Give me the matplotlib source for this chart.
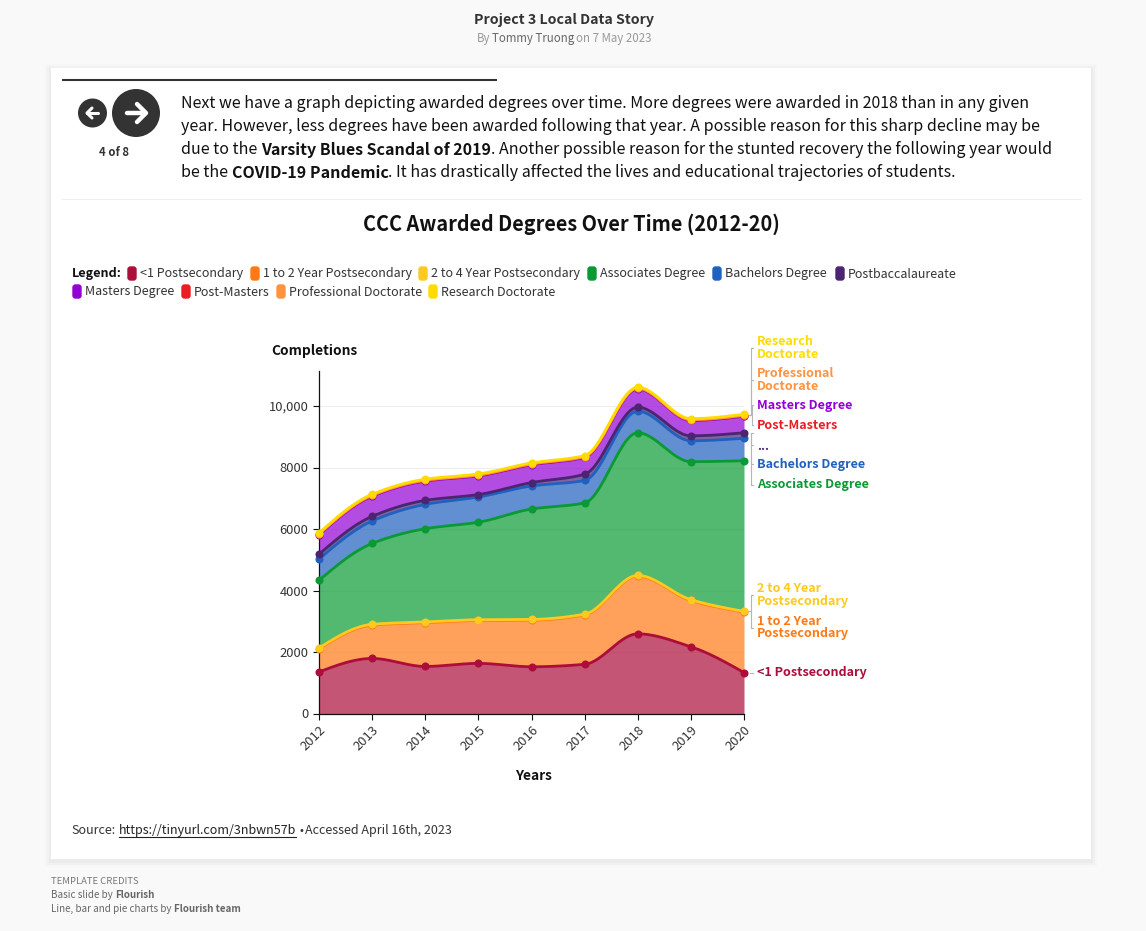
import numpy as np
import matplotlib
matplotlib.use("Agg")
import matplotlib.pyplot as plt
from matplotlib.patches import Rectangle, Circle, FancyBboxPatch

plt.rcParams['font.family'] = ['Noto Sans CJK SC', 'DejaVu Sans']

years = [2012, 2013, 2014, 2015, 2016, 2017, 2018, 2019, 2020]
lt1_post = [1350, 1790, 1530, 1630, 1520, 1600, 2590, 2170, 1330]
y1to2_post = [755, 1085, 1425, 1395, 1515, 1605, 1875, 1505, 1965]
y2to4_post = [25, 25, 25, 25, 25, 25, 25, 25, 25]
associates = [2200, 2630, 3030, 3170, 3590, 3620, 4640, 4490, 4900]
bachelors = [690, 730, 790, 820, 750, 730, 700, 680, 730]
postbacc = [160, 150, 130, 80, 110, 200, 130, 160, 180]
masters = [630, 660, 630, 610, 580, 550, 590, 500, 540]
post_masters = [20, 20, 20, 20, 20, 20, 20, 20, 20]
prof_doc = [5, 5, 5, 5, 5, 5, 5, 5, 5]
res_doc = [35, 35, 35, 35, 35, 35, 35, 35, 35]

series_names = ['<1 Postsecondary', '1 to 2 Year Postsecondary', '2 to 4 Year Postsecondary',
                'Associates Degree', 'Bachelors Degree', 'Postbaccalaureate', 'Masters Degree',
                'Post-Masters', 'Professional Doctorate', 'Research Doctorate']
series_values = [lt1_post, y1to2_post, y2to4_post, associates, bachelors, postbacc, masters,
                 post_masters, prof_doc, res_doc]
colors = ['#ad0d3a', '#ff7a14', '#ffc91f', '#0a9a33', '#2060bf', '#4b2472', '#9300d3',
          '#ec1c24', '#ff9340', '#ffdc00']
y_ticks = [0, 2000, 4000, 6000, 8000, 10000]
y_labels = ['0', '2000', '4000', '6000', '8000', '10,000']

W, H = 1146, 931
fig = plt.figure(figsize=(W / 100, H / 100), dpi=100, facecolor='#f9f9f9')
bg = fig.add_axes([0, 0, 1, 1], zorder=0)
bg.set_xlim(0, W); bg.set_ylim(H, 0); bg.axis('off')

for grow, a in [(6, .012), (4, .018), (2, .025)]:
    bg.add_patch(Rectangle((51 - grow, 68 - grow + 2), 1040 + 2 * grow, 791 + 2 * grow, fc='k', ec='none', alpha=a))
bg.add_patch(Rectangle((51, 68), 1040, 791, fc='white', ec='none'))


def px(v):
    return v * 0.72 * 0.89


def T(x, y, s, size, bold=False, color='#222222', ha='left', **kw):
    return bg.text(x, y + 1, s, fontsize=px(size), fontweight='bold' if bold else 'normal',
                   color=color, ha=ha, va='center', **kw)


def segs(x, y, parts, size, color='#222222'):
    r = fig.canvas.get_renderer()
    for s, b in parts:
        t = T(x, y, s, size, b, color)
        x = t.get_window_extent(r).x1
    return x


# header
T(563.5, 19, 'Project 3 Local Data Story', 15.9, True, '#333333', ha='center')
T(476.5, 37.5, 'By', 12.9, False, '#999999')
T(492.5, 37.5, 'Tommy Truong', 12.9, False, '#666666')
T(576.5, 37.5, 'on 7 May 2023', 12.9, False, '#999999')

# nav
bg.plot([62, 497], [79.5, 79.5], color='#333333', lw=1.5, solid_capstyle='butt')
bg.add_patch(Circle((92.5, 113), 14.5, fc='#333333', ec='none'))
bg.add_patch(Circle((136, 113), 24, fc='#333333', ec='none'))
bg.plot([87, 98], [113, 113], color='white', lw=2.2, solid_capstyle='round')
bg.plot([92, 87, 92], [108, 113, 118], color='white', lw=2.2, solid_capstyle='round', solid_joinstyle='round')
bg.plot([127, 145], [113, 113], color='white', lw=3.2, solid_capstyle='round')
bg.plot([137, 146, 137], [104, 113, 122], color='white', lw=3.2, solid_capstyle='round', solid_joinstyle='round')
T(114, 151.5, '4 of 8', 12.8, True, '#333333', ha='center')

# paragraph
P = 17.95
T(181, 102.5, 'Next we have a graph depicting awarded degrees over time. More degrees were awarded in 2018 than in any given', P, color='#111111')
T(181, 125.5, 'year. However, less degrees have been awarded following that year. A possible reason for this sharp decline may be', P, color='#111111')
segs(181, 148.5, [('due to the ', False), ('Varsity Blues Scandal of 2019', True), ('. Another possible reason for the stunted recovery the following year would', False)], P, '#111111')
segs(181, 171.5, [('be the ', False), ('COVID-19 Pandemic', True), ('. It has drastically affected the lives and educational trajectories of students.', False)], P, '#111111')
bg.plot([62, 1080], [198.5, 198.5], color='#eeeeee', lw=0.8)

T(571, 223.5, 'CCC Awarded Degrees Over Time (2012-20)', 22.3, True, '#111111', ha='center')

# legend
T(72, 273, 'Legend:', 14.2, True, '#111111')
legend_pos = [(127, 273.5), (250, 273.5), (418, 273.5), (587, 273.5), (712, 273.5), (835, 273.5),
              (72, 291.5), (181, 291.5), (276, 291.5), (428, 291.5)]
for (x, y), name, c in zip(legend_pos, series_names, colors):
    bg.add_patch(FancyBboxPatch((x + 1, y - 6.5), 8, 13, boxstyle='round,pad=0,rounding_size=2.5', fc=c, ec=c, lw=1))
    T(x + 13, y - 0.5, name, 14.05, False, '#333333')

# chart axes
x0, x1 = 319, 744
y0, y10k = 713.5, 406.0
ymax = (y0 - 371) / ((y0 - y10k) / 10000)
ax = fig.add_axes([x0 / W, 1 - y0 / H, (x1 - x0) / W, (y0 - 371) / H], zorder=2)
ax.patch.set_alpha(0)
ax.set_xlim(years[0], years[-1]); ax.set_ylim(0, ymax)


def monotone(x, y, n=30):
    x = np.asarray(x, float); y = np.asarray(y, float)
    h = np.diff(x); d = np.diff(y) / h
    m = np.zeros_like(y)
    for i in range(1, len(y) - 1):
        if d[i - 1] * d[i] > 0:
            m[i] = 2 * d[i - 1] * d[i] / (d[i - 1] + d[i])
    m[0] = (3 * d[0] - m[1]) / 2
    m[-1] = (3 * d[-1] - m[-2]) / 2
    xs, ys = [], []
    for i in range(len(h)):
        t = np.linspace(0, 1, n, endpoint=i == len(h) - 1)
        xs.append(x[i] + t * h[i])
        ys.append((2*t**3 - 3*t**2 + 1) * y[i] + (t**3 - 2*t**2 + t) * h[i] * m[i]
                  + (-2*t**3 + 3*t**2) * y[i + 1] + (t**3 - t**2) * h[i] * m[i + 1])
    return np.concatenate(xs), np.concatenate(ys)


cum = np.cumsum(np.array(series_values, float), axis=0)
prev = None
for i, c in enumerate(colors):
    xs, ys = monotone(years, cum[i])
    base = np.zeros_like(ys) if prev is None else prev
    ax.fill_between(xs, base, ys, color=c, alpha=0.7, lw=0, zorder=2)
    prev = ys
for i, c in enumerate(colors):
    xs, ys = monotone(years, cum[i])
    ax.plot(xs, ys, color=c, lw=2.0, zorder=3 + i * 0.1, clip_on=False, solid_capstyle='round')
    ax.plot(years, cum[i], 'o', color=c, ms=5.8, mew=0, zorder=3.05 + i * 0.1, clip_on=False)

ax.set_yticks(y_ticks); ax.set_yticklabels(y_labels)
ax.set_xticks(years)
ax.set_xticklabels([str(v) for v in years], rotation=45, ha='right', rotation_mode='anchor')
ax.tick_params(axis='both', length=4.5, width=0.8, color='#111111', labelsize=px(14.6), labelcolor='#333333', pad=3)
ax.grid(axis='y', color='#eeeeee', lw=0.8, zorder=0)
ax.set_axisbelow(True)
for s in ('top', 'right'):
    ax.spines[s].set_visible(False)
for s in ('left', 'bottom'):
    ax.spines[s].set_color('#111111'); ax.spines[s].set_linewidth(0.9)

T(271, 349.5, 'Completions', 15.4, True, '#111111')
T(533.5, 774.5, 'Years', 15.4, True, '#111111', ha='center')

# direct labels
labels = [
    (757, [(340.5, 'Research'), (353.5, 'Doctorate')], colors[9]),
    (757, [(372.5, 'Professional'), (385.5, 'Doctorate')], colors[8]),
    (757, [(404.5, 'Masters Degree')], colors[6]),
    (757, [(424.5, 'Post-Masters')], colors[7]),
    (757, [(445, '...')], colors[5]),
    (757, [(463.5, 'Bachelors Degree')], colors[4]),
    (757, [(483.5, 'Associates Degree')], colors[3]),
    (757, [(588, '2 to 4 Year'), (600.5, 'Postsecondary')], colors[2]),
    (757, [(620.5, '1 to 2 Year'), (633, 'Postsecondary')], colors[1]),
    (757, [(671.5, '<1 Postsecondary')], colors[0]),
]
for x, lines, c in labels:
    for y, s in lines:
        T(x, y, s, 14.15, True, c)

gray = '#b5b5b5'
brackets = [
    [(753, 347.5), (750.5, 347.5), (750.5, 415), (748, 415)],
    [(753, 380), (751, 380), (751, 415), (748, 415)],
    [(753, 405), (752, 405), (752, 425), (753, 425)],
    [(753, 433), (751, 433), (751, 445), (753, 445)],
    [(753, 464), (751, 464), (751, 433)],
    [(753, 484.5), (751, 484.5), (751, 461)],
    [(753, 595), (751, 595), (751, 627.5), (753, 627.5)],
    [(748, 611), (751, 611)],
    [(750, 672.5), (753, 672.5)],
]
for b in brackets:
    xs, ys = zip(*b)
    bg.plot(xs, ys, color=gray, lw=0.8, zorder=1)

# source
T(71.5, 829.5, 'Source:', 14.1, False, '#333333')
T(118.5, 829.5, 'https://tinyurl.com/3nbwn57b', 14.1, False, '#222222')
bg.plot([118.5, 296], [836.5, 836.5], color='#222222', lw=0.8)
T(298, 829.5, '\u2022', 11, False, '#333333', family='DejaVu Sans')
T(305, 829.5, 'Accessed April 16th, 2023', 14.1, False, '#333333')

# footer
T(51, 880, 'TEMPLATE CREDITS', 10.6, False, '#777777')
segs(51, 893.5, [('Basic slide by ', False), ('Flourish', True)], 11.05, '#666666')
segs(51, 907.5, [('Line, bar and pie charts by ', False), ('Flourish team', True)], 11.05, '#666666')

fig.savefig('out.png', dpi=100, facecolor=fig.get_facecolor())
